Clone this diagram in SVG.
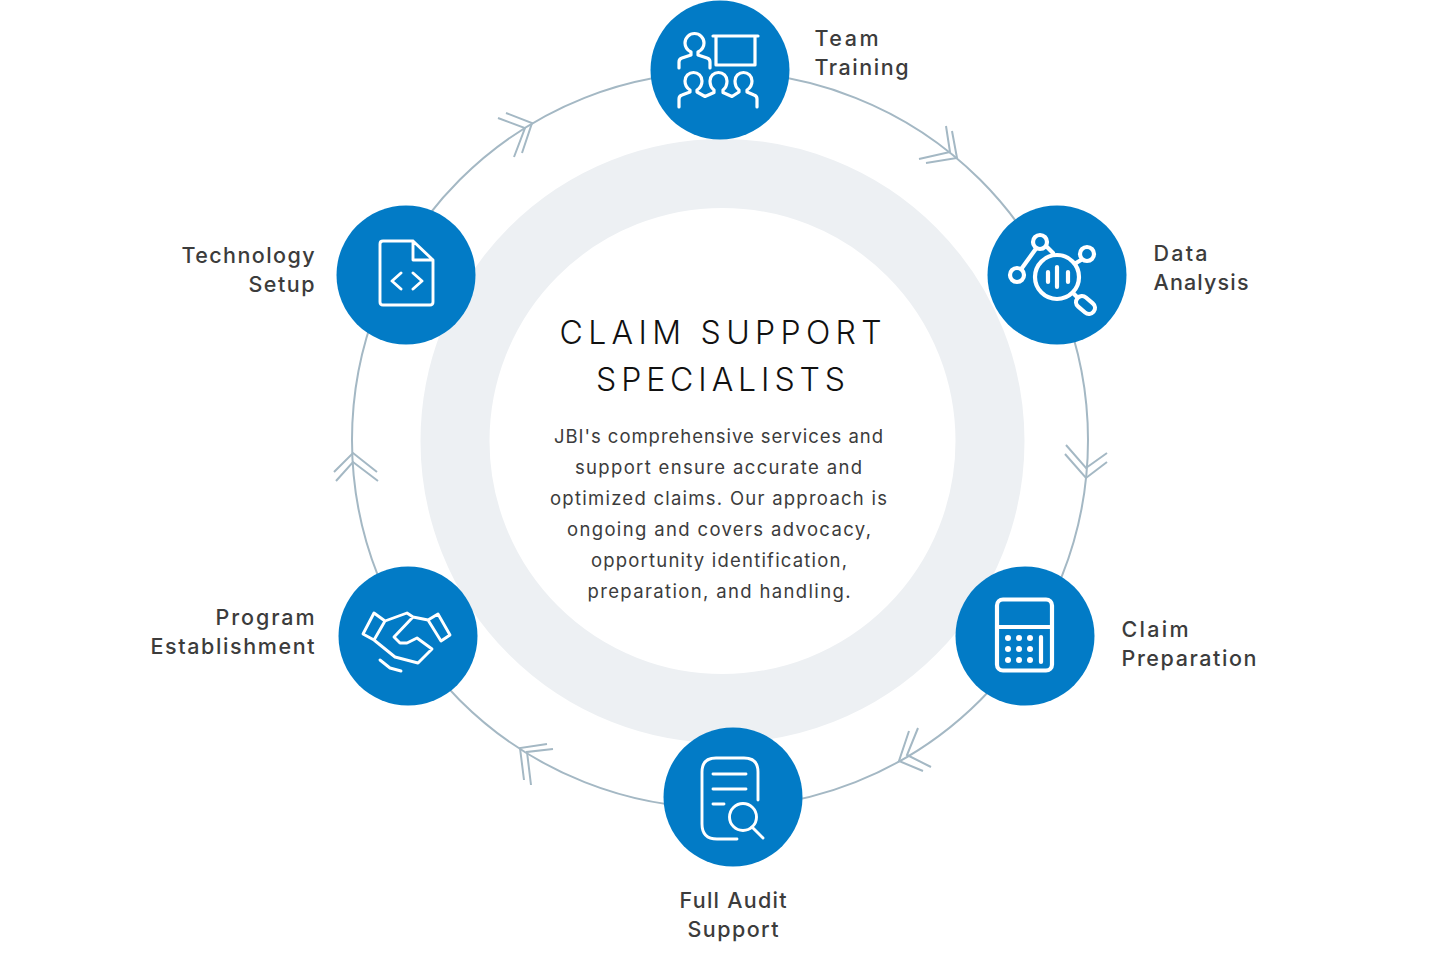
<svg xmlns="http://www.w3.org/2000/svg" width="1440" height="980" viewBox="0 0 1440 980">
<style>
.c{fill:#027bc6}
.i{fill:none;stroke:#fff;stroke-width:3.2;stroke-linecap:round;stroke-linejoin:round}
.t{stroke-width:2.9}
.w{stroke-width:4.2}
.d{fill:#fff;stroke:none}
.l{font-family:"Inter","Liberation Sans",sans-serif;font-size:21.5px;font-weight:500;fill:#3c3c3c}
.h{font-family:"Inter","Liberation Sans",sans-serif;font-size:32px;font-weight:300;fill:#111;text-anchor:middle}
.b{font-family:"Inter","Liberation Sans",sans-serif;font-size:18.5px;font-weight:400;fill:#3c3c3c;text-anchor:middle}
.e{text-anchor:end}
.m{text-anchor:middle}
.a{fill:none;stroke:#a4b8c4;stroke-width:2}
</style>
<rect width="1440" height="980" fill="#fff"/>
<circle cx="722.5" cy="441" r="267.5" fill="none" stroke="#edf0f3" stroke-width="69"/>
<g id="connectors" class="a">
<circle cx="720" cy="440" r="368"/>
<path d="M946 126L950 152L919 159M952 131L957 158L926 163"/>
<path d="M1066 445L1086 468L1107 453M1065 454L1086 478L1107 462"/>
<path d="M909 731L899 761L923 771M918 728L907 755L931 767"/>
<path d="M547 744L520 748L524 780M553 749L527 752L531 785"/>
<path d="M334 472L353 453L377 472M336 481L353 462L378 481"/>
<path d="M498 118L525 128L514 157M506 113L532 123L522 153"/>
</g>
<g id="node-team"><circle class="c" cx="720" cy="70" r="69.5"/>
<g class="i"><path d="M679 68V62Q679 59 682 58L691 55V52Q685 49 685 43A9.5 9.5 0 0 1 704 43Q704 49 698 52V55L707 58Q710 59 710 62V68"/><path d="M713 36H758M716 36V65H755V36"/>
<path d="M679 107V99Q679 96 682 95L690 92V90Q685 87 685 81A8.5 8.5 0 0 1 702 81Q702 87 697 90V92L705 96.5L714 92.5V90Q710 87 710 81A8.5 8.5 0 0 1 727 81Q727 87 723 90V92.5L732 96.5L739 92V90Q735 87 735 81A8.5 8.5 0 0 1 752 81Q752 87 747 90V92L754 95Q757 96 757 99V107"/></g></g>
<g id="node-data"><circle class="c" cx="1057" cy="275" r="69.5"/>
<g class="i w"><circle cx="1040" cy="242" r="7"/><circle cx="1087" cy="254" r="7"/><circle cx="1017" cy="275" r="7"/><circle cx="1057" cy="277" r="22"/><path d="M1035 250L1022 268M1047 247L1053 253M1081 260L1076 263M1048 272V282M1057 267V287M1068 272V282M1073 293L1077 297"/><rect x="1075" y="299" width="21" height="12" rx="6" transform="rotate(40 1085.500 305)"/></g></g>
<g id="node-claim"><circle class="c" cx="1025" cy="636" r="69.5"/>
<g class="i w"><rect x="997" y="599.5" width="55" height="71" rx="6"/><path d="M997 627H1052M1041 637V662"/></g>
<g class="d"><circle cx="1008" cy="638" r="3"/><circle cx="1019" cy="638" r="3"/><circle cx="1030" cy="638" r="3"/><circle cx="1008" cy="649" r="3"/><circle cx="1019" cy="649" r="3"/><circle cx="1030" cy="649" r="3"/><circle cx="1008" cy="660" r="3"/><circle cx="1019" cy="660" r="3"/><circle cx="1030" cy="660" r="3"/></g></g>
<g id="node-audit"><circle class="c" cx="733" cy="797" r="69.5"/>
<g class="i t"><path d="M758 800V772Q758 758 744 758H716Q702 758 702 772V824Q702 839 717 839H737M713 774H746M713 789H746M713 804H724M752 827L763 838"/><circle cx="743" cy="817" r="13.5"/></g></g>
<g id="node-program"><circle class="c" cx="408" cy="636" r="69.5"/>
<g class="i t"><path d="M374 613L385 621L374 640L363 634ZM438 614L450 635L441 641L428 620ZM385 621L407 613L413 617L428 620M374 640L395 657L418 663L432 649L417 638L407 643H400L394 637L413 617M380 660L390 668L401 671"/></g></g>
<g id="node-tech"><circle class="c" cx="406" cy="275" r="69.5"/>
<g class="i t"><path d="M413 241H383Q380 241 380 244V302Q380 305 383 305H430Q433 305 433 302V260L413 241V260H433M401 273L392 281L401 289M413 273L422 281L413 289"/></g></g>
<g id="labels">
<text class="l" x="814.500" y="46" textLength="64">Team</text><text class="l" x="814.500" y="75" textLength="94">Training</text>
<text class="l" x="1153.500" y="260.700" textLength="54">Data</text><text class="l" x="1153.500" y="289.700" textLength="95">Analysis</text>
<text class="l" x="1121.500" y="636.700" textLength="67">Claim</text><text class="l" x="1121.500" y="665.700" textLength="135">Preparation</text>
<text class="l m" x="733" y="907.700" textLength="107">Full Audit</text><text class="l m" x="733" y="936.700" textLength="91">Support</text>
<text class="l e" x="314.500" y="625" textLength="99">Program</text><text class="l e" x="314.500" y="654" textLength="164">Establishment</text>
<text class="l e" x="314.500" y="263" textLength="133">Technology</text><text class="l e" x="314.500" y="292" textLength="66">Setup</text>
</g>
<g id="center">
<text class="h" x="720.500" y="344" textLength="322">CLAIM SUPPORT</text><text class="h" x="720.500" y="391" textLength="249">SPECIALISTS</text>
<text class="b" x="718.500" y="443" textLength="329">JBI's comprehensive services and</text>
<text class="b" x="718.500" y="474" textLength="287">support ensure accurate and</text>
<text class="b" x="718.500" y="505" textLength="337">optimized claims. Our approach is</text>
<text class="b" x="719" y="536" textLength="304">ongoing and covers advocacy,</text>
<text class="b" x="719" y="567" textLength="256">opportunity identification,</text>
<text class="b" x="719" y="598" textLength="263">preparation, and handling.</text>
</g>
</svg>
